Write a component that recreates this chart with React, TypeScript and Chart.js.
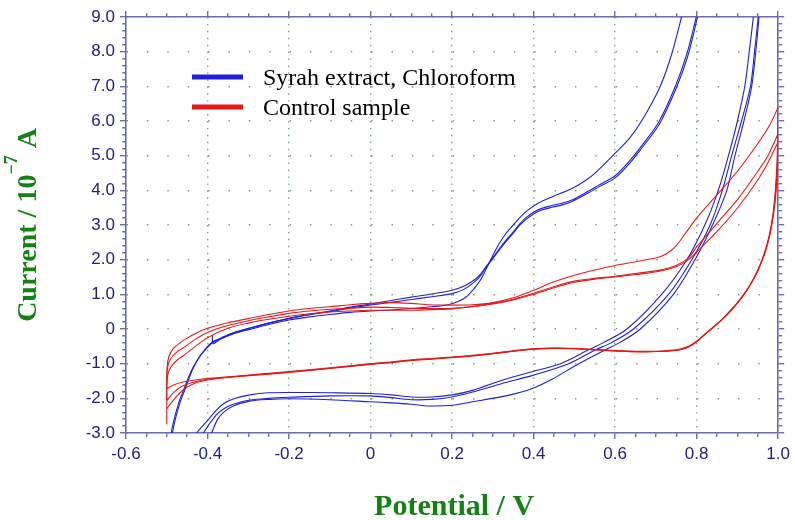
import React, { useEffect, useRef } from 'react';
import { Chart, registerables } from 'chart.js';

Chart.register(...registerables);

type Pt = [number, number];

// ---------- axes ----------
const xMajorTicks = [-0.6, -0.4, -0.2, 0, 0.2, 0.4, 0.6, 0.8, 1.0];
const xTickLabels = ['-0.6', '-0.4', '-0.2', '0', '0.2', '0.4', '0.6', '0.8', '1.0'];
const yMajorTicks = [-3, -2, -1, 0, 1, 2, 3, 4, 5, 6, 7, 8, 9];
const yTickLabels = ['-3.0', '-2.0', '-1.0', '0', '1.0', '2.0', '3.0', '4.0', '5.0', '6.0', '7.0', '8.0', '9.0'];
const xMinorDivisions = 4;
const yMinorDivisions = 5;

const xTitle = 'Potential / V';
const yTitleMain = 'Current / 10';
const yTitleSup = '\u22127';
const yTitleUnit = ' A';

const seriesLabels = ['Syrah extract, Chloroform', 'Control sample'];
const seriesColors = ['#2020d4', '#e81818'];

// ---------- Syrah extract (blue): forward scans ----------
const syrahFwd1: Pt[] = [
  [-0.388, -0.18], [-0.386, -0.42], [-0.37, -0.3], [-0.337, -0.14], [-0.296, -0.01], [-0.25, 0.13],
  [-0.2, 0.26], [-0.15, 0.35], [-0.1, 0.42], [-0.05, 0.48], [0, 0.52], [0.05, 0.55], [0.1, 0.59],
  [0.15, 0.64], [0.19, 0.7], [0.215, 0.79], [0.235, 0.93], [0.255, 1.18], [0.27, 1.42], [0.283, 1.72],
  [0.3, 2.12], [0.315, 2.45], [0.33, 2.72], [0.347, 2.96], [0.365, 3.2], [0.385, 3.42], [0.41, 3.62],
  [0.445, 3.81], [0.494, 4.05], [0.535, 4.35], [0.56, 4.6], [0.6, 5.07], [0.635, 5.5], [0.666, 6.02],
  [0.71, 6.98], [0.739, 7.94], [0.763, 9.0], [0.78, 9.8],
];
const syrahFwd2: Pt[] = [
  [-0.493, -3.3], [-0.485, -2.75], [-0.47, -2.1], [-0.46, -1.8], [-0.445, -1.35], [-0.436, -1.12],
  [-0.42, -0.8], [-0.4, -0.53], [-0.386, -0.38], [-0.36, -0.24], [-0.337, -0.12], [-0.296, 0.02],
  [-0.25, 0.17], [-0.2, 0.31], [-0.15, 0.42], [-0.1, 0.52], [-0.05, 0.63], [0, 0.72], [0.05, 0.82],
  [0.1, 0.92], [0.15, 1.01], [0.2, 1.12], [0.23, 1.24], [0.255, 1.42], [0.27, 1.58], [0.283, 1.79],
  [0.3, 2.06], [0.315, 2.3], [0.33, 2.53], [0.347, 2.76], [0.365, 3.02], [0.38, 3.2], [0.4, 3.37],
  [0.42, 3.48], [0.445, 3.56], [0.47, 3.63], [0.494, 3.72], [0.535, 3.98], [0.56, 4.15], [0.6, 4.42],
  [0.637, 4.87], [0.657, 5.16], [0.706, 5.95], [0.747, 6.98], [0.776, 7.94], [0.799, 9.0], [0.81, 9.6],
];
const syrahFwd3: Pt[] = [
  [-0.49, -3.3], [-0.482, -2.75], [-0.467, -2.1], [-0.457, -1.8], [-0.443, -1.35], [-0.434, -1.1],
  [-0.418, -0.78], [-0.4, -0.5], [-0.386, -0.36], [-0.36, -0.22], [-0.337, -0.11], [-0.296, 0.03],
  [-0.25, 0.17], [-0.2, 0.3], [-0.15, 0.41], [-0.1, 0.5], [-0.05, 0.6], [0, 0.69], [0.05, 0.77],
  [0.1, 0.85], [0.15, 0.93], [0.2, 1.02], [0.23, 1.15], [0.255, 1.36], [0.27, 1.54], [0.283, 1.77],
  [0.3, 2.03], [0.315, 2.27], [0.33, 2.49], [0.347, 2.72], [0.365, 2.98], [0.38, 3.15], [0.4, 3.32],
  [0.42, 3.43], [0.445, 3.51], [0.47, 3.58], [0.494, 3.68], [0.535, 3.93], [0.56, 4.1], [0.6, 4.36],
  [0.637, 4.8], [0.66, 5.14], [0.708, 5.9], [0.75, 6.95], [0.779, 7.9], [0.802, 9.0], [0.812, 9.6],
];

// ---------- Syrah extract (blue): reverse scans ----------
const syrahRev1: Pt[] = [
  [0.943, 9.6], [0.939, 9.0], [0.929, 8.0], [0.918, 7.0], [0.9, 6.0], [0.878, 5.0], [0.853, 4.0],
  [0.82, 3.0], [0.776, 2.0], [0.714, 1.0], [0.629, 0.0], [0.57, -0.4], [0.535, -0.6], [0.466, -1.0],
  [0.4, -1.22], [0.323, -1.48], [0.25, -1.77], [0.2, -1.9], [0.15, -1.96], [0.1, -1.96], [0.05, -1.9],
  [0.0, -1.86], [-0.1, -1.84], [-0.2, -1.83], [-0.25, -1.84], [-0.296, -1.9], [-0.337, -2.02],
  [-0.36, -2.15], [-0.378, -2.34], [-0.403, -2.68], [-0.427, -3.0], [-0.44, -3.3],
];
const syrahRev2: Pt[] = [
  [0.955, 9.6], [0.951, 9.0], [0.942, 8.0], [0.932, 7.0], [0.91, 6.0], [0.886, 5.0], [0.863, 4.0],
  [0.833, 3.0], [0.788, 2.0], [0.731, 1.0], [0.645, 0.0], [0.59, -0.4], [0.552, -0.6], [0.486, -1.0],
  [0.4, -1.33], [0.323, -1.57], [0.25, -1.82], [0.2, -1.96], [0.15, -2.03], [0.1, -2.04], [0.05, -1.98],
  [0, -1.93], [-0.1, -1.93], [-0.2, -1.97], [-0.25, -2.0], [-0.296, -2.05], [-0.337, -2.17],
  [-0.36, -2.3], [-0.38, -2.5], [-0.41, -3.0], [-0.42, -3.3],
];
const syrahRev3: Pt[] = [
  [0.957, 9.6], [0.953, 9.0], [0.945, 8.0], [0.935, 7.0], [0.916, 6.0], [0.894, 5.0], [0.874, 4.0],
  [0.839, 3.0], [0.796, 2.0], [0.743, 1.0], [0.662, 0.0], [0.61, -0.4], [0.576, -0.6], [0.511, -1.0],
  [0.445, -1.45], [0.4, -1.7], [0.36, -1.85], [0.323, -1.95], [0.25, -2.1], [0.2, -2.2], [0.144, -2.22],
  [0.1, -2.17], [0.05, -2.13], [0.0, -2.1], [-0.1, -2.04], [-0.2, -2.01], [-0.25, -2.03], [-0.296, -2.08],
  [-0.337, -2.22], [-0.36, -2.4], [-0.375, -2.6], [-0.39, -3.0], [-0.4, -3.3],
];

// ---------- Control sample (red): forward scans ----------
const controlFwd1: Pt[] = [
  [-0.5, -2.75], [-0.5, -1.6], [-0.499, -1.1], [-0.495, -0.8], [-0.485, -0.58], [-0.47, -0.42],
  [-0.455, -0.3], [-0.43, -0.13], [-0.4, 0.02], [-0.35, 0.18], [-0.3, 0.3], [-0.25, 0.42], [-0.2, 0.52],
  [-0.15, 0.59], [-0.1, 0.64], [-0.05, 0.7], [0, 0.74], [0.05, 0.76], [0.1, 0.74], [0.144, 0.7],
  [0.2, 0.69], [0.25, 0.7], [0.3, 0.76], [0.35, 0.9], [0.4, 1.12], [0.45, 1.36], [0.5, 1.55],
  [0.55, 1.7], [0.6, 1.83], [0.65, 1.94], [0.706, 2.07], [0.73, 2.2], [0.751, 2.42], [0.775, 2.8],
  [0.8, 3.2], [0.853, 3.91], [0.902, 4.58], [0.95, 5.35], [0.98, 5.9], [1.0, 6.4],
];
const controlFwd2: Pt[] = [
  [-0.5, -1.72], [-0.5, -1.35], [-0.497, -1.05], [-0.49, -0.85], [-0.475, -0.66], [-0.46, -0.55],
  [-0.43, -0.3], [-0.4, -0.1], [-0.35, 0.1], [-0.3, 0.24], [-0.25, 0.35], [-0.2, 0.45], [-0.15, 0.52],
  [-0.1, 0.57], [-0.05, 0.6], [0, 0.63], [0.05, 0.62], [0.1, 0.6], [0.15, 0.59], [0.2, 0.6],
  [0.25, 0.65], [0.3, 0.74], [0.35, 0.86], [0.4, 1.03], [0.45, 1.22], [0.5, 1.38], [0.55, 1.46],
  [0.6, 1.52], [0.65, 1.6], [0.706, 1.69], [0.751, 1.84], [0.78, 2.05], [0.8, 2.37], [0.853, 3.09],
  [0.902, 3.76], [0.95, 4.55], [0.975, 5.0], [1.0, 5.64],
];
const controlFwd3: Pt[] = [
  [-0.5, -2.06], [-0.5, -1.6], [-0.496, -1.25], [-0.487, -1.05], [-0.473, -0.88], [-0.46, -0.78],
  [-0.43, -0.5], [-0.4, -0.25], [-0.35, 0.02], [-0.3, 0.17], [-0.25, 0.28], [-0.2, 0.37], [-0.15, 0.44],
  [-0.1, 0.49], [-0.05, 0.52], [0, 0.54], [0.05, 0.54], [0.1, 0.54], [0.15, 0.56], [0.2, 0.58],
  [0.25, 0.64], [0.3, 0.72], [0.35, 0.84], [0.4, 1.0], [0.45, 1.19], [0.5, 1.35], [0.55, 1.44],
  [0.6, 1.5], [0.65, 1.57], [0.706, 1.66], [0.751, 1.8], [0.78, 2.0], [0.8, 2.22], [0.853, 2.85],
  [0.902, 3.52], [0.95, 4.3], [0.975, 4.8], [1.0, 5.4],
];

// ---------- Control sample (red): reverse scans ----------
const controlRev1: Pt[] = [
  [1.0, 6.4], [0.999, 5.6], [0.997, 4.8], [0.993, 4.0], [0.987, 3.3], [0.978, 2.7], [0.965, 2.15],
  [0.95, 1.7], [0.93, 1.25], [0.91, 0.9], [0.89, 0.6], [0.865, 0.3], [0.84, 0.05], [0.82, -0.15],
  [0.8, -0.35], [0.78, -0.5], [0.76, -0.58], [0.73, -0.62], [0.7, -0.64], [0.65, -0.64], [0.6, -0.62],
  [0.55, -0.59], [0.5, -0.56], [0.45, -0.55], [0.4, -0.57], [0.35, -0.63], [0.3, -0.7], [0.25, -0.76],
  [0.2, -0.81], [0.15, -0.85], [0.1, -0.89], [0.05, -0.95], [0, -1.0], [-0.1, -1.12], [-0.2, -1.23],
  [-0.3, -1.33], [-0.35, -1.38], [-0.4, -1.43], [-0.43, -1.47], [-0.46, -1.53], [-0.48, -1.6], [-0.5, -1.72],
];
const controlRev2: Pt[] = [
  [1.0, 5.64], [0.999, 5.0], [0.996, 4.3], [0.991, 3.6], [0.984, 3.0], [0.974, 2.45], [0.96, 1.95],
  [0.945, 1.55], [0.925, 1.15], [0.905, 0.82], [0.885, 0.55], [0.863, 0.28], [0.84, 0.04], [0.82, -0.16],
  [0.8, -0.36], [0.78, -0.51], [0.76, -0.59], [0.73, -0.63], [0.7, -0.65], [0.65, -0.65], [0.6, -0.63],
  [0.55, -0.6], [0.5, -0.57], [0.45, -0.56], [0.4, -0.58], [0.35, -0.64], [0.3, -0.71], [0.25, -0.77],
  [0.2, -0.82], [0.15, -0.86], [0.1, -0.9], [0.05, -0.96], [0, -1.01], [-0.1, -1.13], [-0.2, -1.24],
  [-0.3, -1.34], [-0.35, -1.39], [-0.4, -1.45], [-0.43, -1.52], [-0.46, -1.64], [-0.48, -1.8], [-0.5, -2.06],
];
const controlRev3: Pt[] = [
  [1.0, 5.4], [0.999, 4.7], [0.995, 4.0], [0.989, 3.35], [0.981, 2.8], [0.97, 2.3], [0.956, 1.85],
  [0.94, 1.45], [0.92, 1.07], [0.9, 0.76], [0.88, 0.5], [0.86, 0.25], [0.838, 0.02], [0.818, -0.17],
  [0.8, -0.37], [0.78, -0.52], [0.76, -0.6], [0.73, -0.64], [0.7, -0.65], [0.65, -0.66], [0.6, -0.63],
  [0.55, -0.6], [0.5, -0.57], [0.45, -0.56], [0.4, -0.58], [0.35, -0.64], [0.3, -0.71], [0.25, -0.78],
  [0.2, -0.82], [0.15, -0.87], [0.1, -0.91], [0.05, -0.97], [0, -1.02], [-0.1, -1.14], [-0.2, -1.25],
  [-0.3, -1.35], [-0.35, -1.4], [-0.4, -1.47], [-0.43, -1.56], [-0.46, -1.76], [-0.48, -2.0], [-0.5, -2.3],
];

const controlScans: Pt[][] = [controlFwd1, controlRev1, controlFwd2, controlRev2, controlFwd3, controlRev3];
const syrahScans: Pt[][] = [syrahFwd1, syrahRev1, syrahFwd2, syrahRev2, syrahFwd3, syrahRev3];

// ---------- styling ----------
const FRAME = '#6c6cb4';
const TICK_COLOR = '#22227e';
const GREEN = '#138213';
const TICK_FONT = { family: '"Liberation Sans", Arial, sans-serif', size: 17 };
const SERIF = '"Liberation Serif", "Times New Roman", serif';

function buildTicks(majors: number[], divisions: number) {
  const ticks: any[] = [];
  for (let i = 0; i < majors.length; i++) {
    ticks.push({ value: majors[i], isMajor: true, majorIndex: i });
    if (i < majors.length - 1) {
      const step = (majors[i + 1] - majors[i]) / divisions;
      for (let k = 1; k < divisions; k++) ticks.push({ value: majors[i] + k * step, isMajor: false });
    }
  }
  return ticks;
}

const isMajor = (c: any) => !!(c && c.tick && c.tick.isMajor);

function minorPx(scale: any, majors: number[], div: number) {
  if (!scale) return 7;
  return Math.abs(scale.getPixelForValue(majors[1]) - scale.getPixelForValue(majors[0])) / div;
}

function makeAxis(kind: 'x' | 'y', position: string, withLabels: boolean, size: number) {
  const majors = kind === 'x' ? xMajorTicks : yMajorTicks;
  const labels = kind === 'x' ? xTickLabels : yTickLabels;
  const div = kind === 'x' ? xMinorDivisions : yMinorDivisions;
  const tickStartsOuter = position === 'left' || position === 'top';
  return {
    type: 'linear',
    position,
    min: majors[0],
    max: majors[majors.length - 1],
    afterBuildTicks: (s: any) => { s.ticks = buildTicks(majors, div); },
    afterFit: (s: any) => {
      if (kind === 'x') s.height = size; else s.width = size;
    },
    ticks: {
      display: withLabels,
      autoSkip: false,
      maxRotation: 0,
      minRotation: 0,
      padding: 5,
      color: TICK_COLOR,
      font: TICK_FONT,
      callback: (_v: any, i: number, ticks: any[]) => (ticks[i].isMajor ? labels[ticks[i].majorIndex] : ''),
    },
    grid: {
      drawOnChartArea: withLabels,
      color: (c: any) => (isMajor(c) ? (kind === 'x' ? 'rgba(110,160,110,0.95)' : 'rgba(120,120,120,0.85)') : 'rgba(0,0,0,0)'),
      lineWidth: 1.4,
      tickLength: 6,
      tickColor: FRAME,
      tickWidth: 1.4,
      tickBorderDash: (c: any) => (isMajor(c) ? [] : tickStartsOuter ? [0, 2.3, 3.5, 100] : [3.5, 100]),
    },
    border: {
      display: true,
      color: FRAME,
      width: 1.6,
      dash: (c: any) => {
        if (!c || !c.chart) return [];
        const p = kind === 'x'
          ? minorPx(c.chart.scales.y, yMajorTicks, yMinorDivisions)
          : minorPx(c.chart.scales.x, xMajorTicks, xMinorDivisions);
        return [1.4, Math.max(1, p - 1.4)];
      },
    },
  };
}

const decorPlugin = {
  id: 'decor',
  afterDraw(chart: any) {
    const ctx = chart.ctx as CanvasRenderingContext2D;
    const area = chart.chartArea;
    ctx.save();
    // legend (inside plot, upper left)
    const lx = area.left + 66;
    const ly = area.top + 60;
    seriesLabels.forEach((label, i) => {
      const y = ly + i * 30;
      ctx.strokeStyle = seriesColors[i];
      ctx.lineWidth = 5;
      ctx.lineCap = 'butt';
      ctx.beginPath();
      ctx.moveTo(lx, y);
      ctx.lineTo(lx + 51, y);
      ctx.stroke();
      ctx.fillStyle = '#000';
      ctx.font = `24px ${SERIF}`;
      ctx.textBaseline = 'alphabetic';
      ctx.textAlign = 'left';
      ctx.fillText(label, lx + 71, y + 8);
    });

    // x title
    ctx.fillStyle = GREEN;
    ctx.font = `bold 30px ${SERIF}`;
    ctx.textAlign = 'center';
    ctx.textBaseline = 'alphabetic';
    ctx.fillText(xTitle, (area.left + area.right) / 2 + 2, 515);

    // y title with superscript
    const big = `bold 28px ${SERIF}`;
    const small = `bold 18px ${SERIF}`;
    const parts: [string, string, number][] = [
      [yTitleMain, big, 0],
      [yTitleSup, small, -19],
      [yTitleUnit, big, 0],
    ];
    ctx.translate(36, (area.top + area.bottom) / 2);
    ctx.rotate(-Math.PI / 2);
    ctx.textAlign = 'left';
    let total = 0;
    parts.forEach(([t, f]) => { ctx.font = f; total += ctx.measureText(t).width; });
    let x = -total / 2;
    parts.forEach(([t, f, dy]) => {
      ctx.font = f;
      ctx.fillText(t, x, dy);
      x += ctx.measureText(t).width;
    });
    ctx.restore();
  },
};

export default function App() {
  const ref = useRef<HTMLCanvasElement>(null);
  useEffect(() => {
    if (!ref.current) return;
    const mk = (pts: Pt[], color: string) => ({
      data: pts.map(([x, y]) => ({ x, y })),
      showLine: true,
      borderColor: color,
      backgroundColor: color,
      borderWidth: 1.1,
      pointRadius: 0,
      tension: 0.3,
      fill: false,
    });
    const datasets = [
      ...controlScans.map((s) => mk(s, seriesColors[1])),
      ...syrahScans.map((s) => mk(s, seriesColors[0])),
    ];
    const chart = new Chart(ref.current, {
      type: 'scatter',
      data: { datasets },
      options: {
        responsive: false,
        animation: false,
        devicePixelRatio: 1,
        layout: { padding: 0 },
        plugins: { legend: { display: false }, tooltip: { enabled: false } },
        scales: {
          x: makeAxis('x', 'bottom', true, 87),
          x2: makeAxis('x', 'top', false, 17),
          y: makeAxis('y', 'left', true, 126),
          y2: makeAxis('y', 'right', false, 15),
        } as any,
      },
      plugins: [decorPlugin],
    } as any);
    return () => chart.destroy();
  }, []);
  return (
    <div style={{ position: 'absolute', left: 0, top: 0, width: 795, height: 520, background: '#ffffff' }}>
      <canvas ref={ref} width={795} height={520} style={{ display: 'block', width: 795, height: 520 }} />
    </div>
  );
}
